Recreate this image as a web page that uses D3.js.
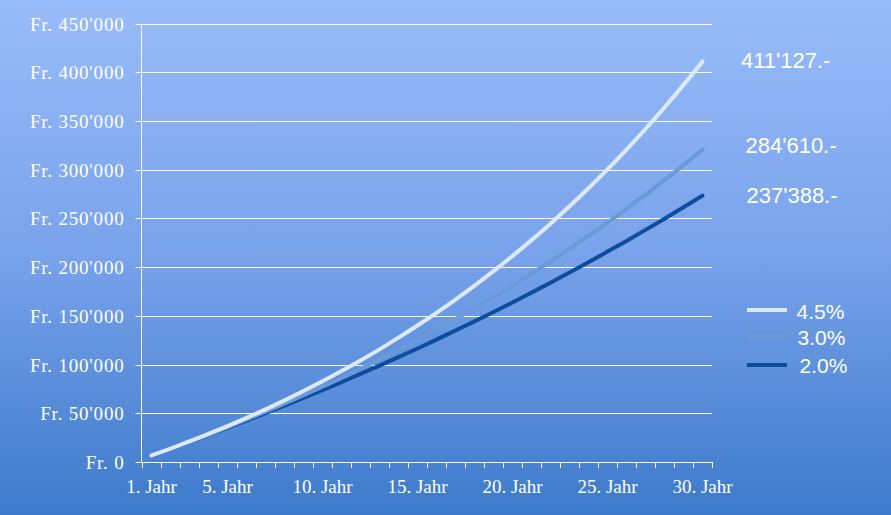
<!DOCTYPE html>
<html><head><meta charset="utf-8">
<script src="https://cdn.jsdelivr.net/npm/d3@7"></script>
<style>html,body{margin:0;padding:0;overflow:hidden;}svg{display:block;}</style>
</head><body>
<svg id="chart" width="891" height="515"></svg>
<script>
const years = d3.range(1, 31);
const yearLabels = ["1. Jahr","5. Jahr","10. Jahr","15. Jahr","20. Jahr","25. Jahr","30. Jahr"];
const labelYears = [1,5,10,15,20,25,30];
const yTicks = [0,50000,100000,150000,200000,250000,300000,350000,400000,450000];
const s45 = [6700,13800,21100,28800,36900,45300,54000,63200,72800,82800,93300,104200,115600,127600,140100,153100,166700,181000,195900,211400,227700,244600,262400,280900,300300,320600,341700,363900,387000,411100];
const s30 = [6700,13700,20800,28200,35800,43600,51600,59900,68500,77300,86300,95600,105200,115100,125300,135800,146700,157800,169300,181100,193300,205800,218700,232000,245700,259800,274300,289300,304700,320600];
const s20 = [6700,13600,20600,27800,35100,42500,50100,57800,65700,73800,82000,90400,98900,107600,116500,125600,134900,144300,153900,163700,173800,184000,194400,205000,215900,226900,238200,249700,261400,273400];
const seriesNames = ["4.5%","3.0%","2.0%"];
const endLabels = ["411'127.-","284'610.-","237'388.-"];

(function () {
const svg = d3.select("#chart");
const W = 891, H = 515;
const defs = svg.append("defs");
const grad = defs.append("linearGradient").attr("id","bg").attr("x1",0).attr("y1",0).attr("x2",0).attr("y2",1);
grad.append("stop").attr("offset","0%").attr("stop-color","#99bcf9");
grad.append("stop").attr("offset","50%").attr("stop-color","#78a2ea");
grad.append("stop").attr("offset","100%").attr("stop-color","#3d7acb");
svg.append("rect").attr("width",W).attr("height",H).attr("fill","url(#bg)");

const pLeft = 142, pRight = 712, pTop = 23.5, pBottom = 462;
const x = d3.scaleBand().domain(years).range([pLeft, pRight]).paddingInner(0).paddingOuter(0);
const y = d3.scaleLinear().domain([0, 450000]).range([pBottom, pTop]);

// gridlines
svg.append("g").selectAll("line").data(yTicks.filter(d => d > 0)).join("line")
  .attr("x1", pLeft - 6).attr("x2", pRight)
  .attr("y1", d => Math.round(y(d)) + 0.5).attr("y2", d => Math.round(y(d)) + 0.5)
  .attr("stroke", "#ffffff").attr("stroke-width", 1);

// y axis
const yAxis = d3.axisLeft(y).tickValues(yTicks).tickSize(6).tickPadding(11)
  .tickFormat(d => "Fr. " + (d === 0 ? "0" : d3.format(",")(d).replace(/,/g, "'")));
const gy = svg.append("g").attr("transform", `translate(${pLeft - 0.5},0)`).call(yAxis);
gy.select(".domain").attr("stroke", "#fff").attr("d", `M0,${pTop}V${pBottom}`);
gy.selectAll(".tick line").attr("stroke", "#fff");
gy.selectAll(".tick").attr("transform", d => `translate(0,${Math.round(y(d)) + 0.5})`);
gy.selectAll("text").attr("fill", "#fff").attr("font-family", "'Liberation Serif', serif").attr("font-size", "19px")
  .attr("letter-spacing", "0.8px");

// x axis (category ticks between categories)
svg.append("line").attr("x1", pLeft).attr("x2", pRight + 0.5).attr("y1", pBottom + 0.5).attr("y2", pBottom + 0.5).attr("stroke", "#fff");
svg.append("g").selectAll("line").data(d3.range(0, 31)).join("line")
  .attr("x1", i => Math.round(pLeft + i * x.bandwidth()) + 0.5).attr("x2", i => Math.round(pLeft + i * x.bandwidth()) + 0.5)
  .attr("y1", pBottom).attr("y2", pBottom + 6).attr("stroke", "#fff");
svg.append("g").selectAll("text").data(labelYears).join("text")
  .attr("x", (d) => x(d) + x.bandwidth() / 2).attr("y", 492.5)
  .attr("text-anchor", "middle").attr("fill", "#fff")
  .attr("font-family", "'Liberation Serif', serif").attr("font-size", "19px")
  .text((d, i) => yearLabels[i]);

// lines
const colors = ["#dce9fb", "#6b9ad8", "#0c4e9e"];
const data = [s45, s30, s20];
const line = d3.line().x((d, i) => x(years[i]) + x.bandwidth() / 2).y(d => y(d)).curve(d3.curveMonotoneX);
[2, 1, 0].forEach(k => {
  svg.append("path").datum(data[k]).attr("d", line).attr("fill", "none")
    .attr("stroke", colors[k]).attr("stroke-width", 4).attr("stroke-linecap", "round").attr("stroke-linejoin", "round");
});

// end labels
const endPos = [[741, 67.5], [745.5, 152.5], [746.5, 202.5]];
svg.append("g").selectAll("text").data(endLabels).join("text")
  .attr("x", (d, i) => endPos[i][0]).attr("y", (d, i) => endPos[i][1])
  .attr("fill", "#fff").attr("font-family", "'Liberation Sans', Arial, sans-serif").attr("font-size", "22px")
  .text(d => d);

// legend
const legY = [310, 337, 365];
const legTextPos = [[796.5, 318.5], [797.5, 345], [799.5, 373]];
const lg = svg.append("g");
seriesNames.forEach((n, i) => {
  lg.append("line").attr("x1", 747).attr("x2", 787).attr("y1", legY[i]).attr("y2", legY[i])
    .attr("stroke", colors[i]).attr("stroke-width", 4);
  lg.append("text").attr("x", legTextPos[i][0]).attr("y", legTextPos[i][1])
    .attr("fill", "#fff").attr("font-family", "'Liberation Sans', Arial, sans-serif").attr("font-size", "21px")
    .text(n);
});
})();
</script>
</body></html>
